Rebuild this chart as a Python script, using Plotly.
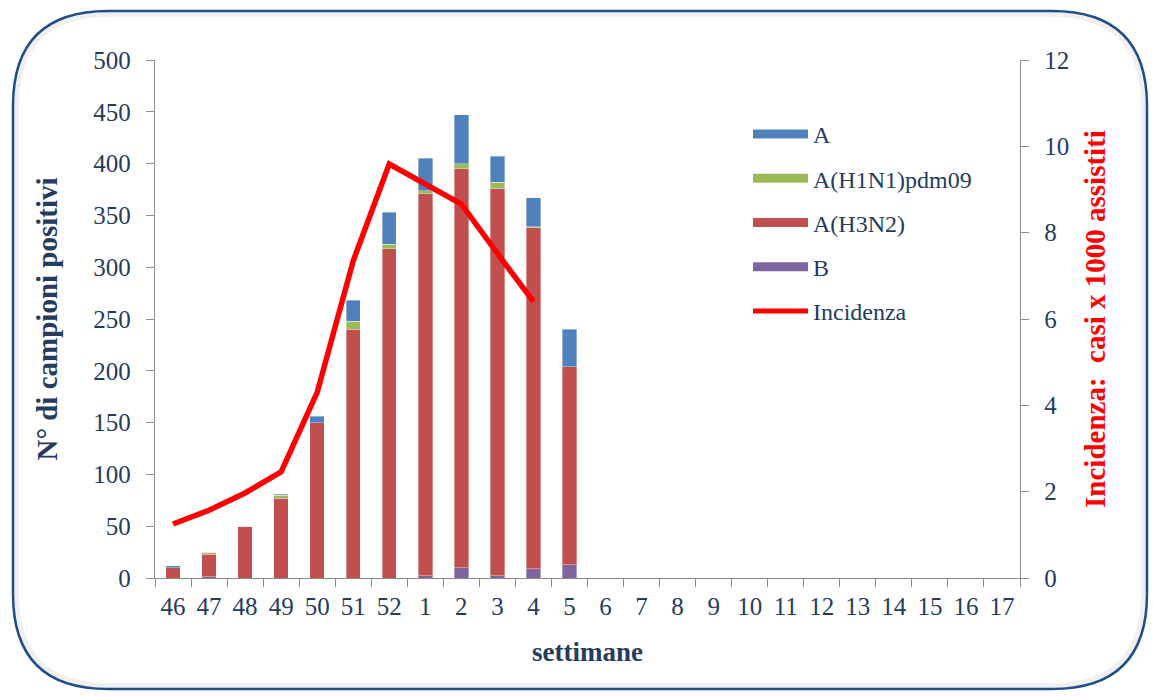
import plotly.graph_objects as go

weeks = ["46","47","48","49","50","51","52","1","2","3","4","5","6","7","8","9","10","11","12","13","14","15","16","17"]
val_B     = [0, 1, 0, 0, 0, 0, 0, 2, 10, 2, 9, 13] + [None]*12
val_H3N2  = [10, 22, 50, 77, 150, 240, 318, 369, 385, 374, 329, 191] + [None]*12
val_H1N1  = [0, 2, 0, 3, 0, 8, 4, 3, 5, 6, 1, 0] + [None]*12
val_A     = [2, 0, 0, 1, 6, 20, 31, 31, 47, 25, 28, 36] + [None]*12
incidenza = [1.25, 1.57, 1.97, 2.46, 4.3, 7.35, 9.59, 9.14, 8.66, 7.52, 6.40] + [None]*13

C_A, C_H1, C_H3, C_B, C_INC = "#4F81BD", "#9BBB59", "#C0504D", "#8064A2", "#FF0000"
TXT = "#263C5E"
FONT = "Liberation Serif, Times New Roman, serif"

fig = go.Figure()
for name, vals, col in [("B", val_B, C_B), ("A(H3N2)", val_H3N2, C_H3),
                        ("A(H1N1)pdm09", val_H1N1, C_H1), ("A", val_A, C_A)]:
    fig.add_trace(go.Bar(x=weeks, y=vals, name=name, marker=dict(color=col, line=dict(color="rgba(255,255,255,0.6)", width=0.6)),
                         showlegend=False, width=0.4))
fig.add_trace(go.Scatter(x=weeks, y=incidenza, yaxis="y2", mode="lines", name="Incidenza",
                         line=dict(color=C_INC, width=5.5), showlegend=False))

# legend entries (Excel-style bars)
for i, (name, col, w) in enumerate([("A", C_A, 9), ("A(H1N1)pdm09", C_H1, 9), ("A(H3N2)", C_H3, 9), ("B", C_B, 9), ("Incidenza", C_INC, 5)]):
    fig.add_trace(go.Scatter(x=[None], y=[None], mode="lines", name=name, line=dict(color=col, width=w),
                             legendgroup=f"g{i}", legendrank=i, showlegend=True))

# rounded frame
L, R, T, B = 155, 1020, 60, 578
W, H = R - L, B - T
def px(x): return (x - L) / W
def py(y): return (B - y) / H
def rrect(x0, y0, x1, y1, r):
    return (f"M {px(x0+r)},{py(y0)} L {px(x1-r)},{py(y0)} Q {px(x1)},{py(y0)} {px(x1)},{py(y0+r)} "
            f"L {px(x1)},{py(y1-r)} Q {px(x1)},{py(y1)} {px(x1-r)},{py(y1)} "
            f"L {px(x0+r)},{py(y1)} Q {px(x0)},{py(y1)} {px(x0)},{py(y1-r)} "
            f"L {px(x0)},{py(y0+r)} Q {px(x0)},{py(y0)} {px(x0+r)},{py(y0)} Z")

shapes = [
    dict(type="path", xref="paper", yref="paper", path=rrect(16, 14, 1144, 686, 92),
         line=dict(color="rgba(0,0,0,0.06)", width=6), layer="below"),
    dict(type="path", xref="paper", yref="paper", path=rrect(13, 11, 1147, 689, 95),
         line=dict(color="#1F4E8A", width=2.5), layer="above"),
]

tick_common = dict(showline=True, linecolor="#8C8C8C", linewidth=1.3, ticks="outside", ticklen=8,
                   tickcolor="#8C8C8C", showgrid=False, zeroline=False,
                   tickfont=dict(family=FONT, size=25, color=TXT))

fig.update_layout(
    width=1153, height=696,
    margin=dict(l=L, r=1153 - R, t=T, b=696 - B),
    paper_bgcolor="white", plot_bgcolor="white",
    barmode="stack",
    font=dict(family=FONT, color=TXT, size=24),
    shapes=shapes,
    xaxis=dict(type="category", categoryorder="array", categoryarray=weeks, tickson="boundaries",
               ticklabelstandoff=6,
               title=dict(text="<b>settimane</b>", font=dict(family=FONT, size=27, color=TXT), standoff=22),
               **tick_common),
    yaxis=dict(range=[0, 500], dtick=50, ticklabelstandoff=10,
               title=dict(text="<b>N° di campioni positivi</b>", font=dict(family=FONT, size=29, color=TXT), standoff=27),
               **tick_common),
    yaxis2=dict(range=[0, 12], dtick=2, overlaying="y", side="right", ticklabelstandoff=10,
                title=dict(text="<b>Incidenza:\u00a0 casi x 1000 assistiti</b>", font=dict(family=FONT, size=29, color=C_INC), standoff=16),
                **tick_common),
    legend=dict(x=px(748), y=py(112), xanchor="left", yanchor="top", traceorder="grouped", tracegroupgap=10,
                itemwidth=55, font=dict(family=FONT, size=24, color=TXT), bgcolor="rgba(0,0,0,0)"),
    showlegend=True,
)

fig.write_html("out.html", config={"displayModeBar": False},
               post_script="document.body.style.margin='0px';document.body.style.padding='0px';")
